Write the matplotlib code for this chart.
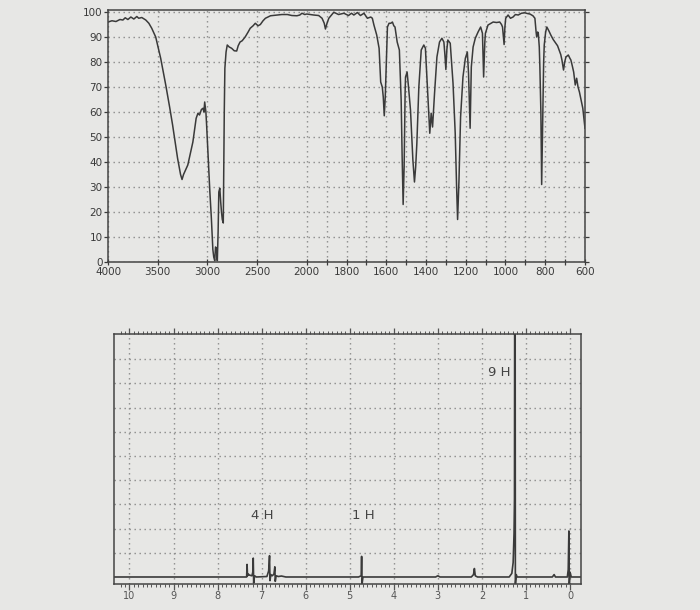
import numpy as np
import matplotlib
matplotlib.use("Agg")
import matplotlib.pyplot as plt

# ---------------- IR spectrum data (wavenumber cm-1, %T) ----------------
ir_wavenumber = [
    4000, 3960, 3920, 3880, 3850, 3827, 3800, 3770, 3740, 3710, 3691, 3660, 3620, 3589, 3560,
    3520, 3470, 3419, 3380, 3350, 3300, 3270, 3255, 3240, 3197, 3146, 3113, 3095, 3079, 3060,
    3044, 3035, 3027, 3015, 3008, 2993, 2975, 2960, 2945, 2936, 2926, 2918, 2909, 2900, 2892,
    2885, 2875, 2866, 2858, 2850, 2840, 2836, 2830, 2824, 2812, 2800, 2780, 2756, 2730, 2705,
    2690, 2671, 2650, 2620, 2590, 2569, 2540, 2518, 2490, 2467, 2440, 2416, 2390, 2365, 2300,
    2250, 2195, 2150, 2099, 2070, 2048, 2020, 2000, 1965, 1940, 1923, 1912, 1906, 1898, 1889,
    1864, 1840, 1813, 1790, 1775, 1763, 1745, 1730, 1712, 1695, 1678, 1670, 1662, 1648, 1636,
    1628, 1620, 1615, 1610, 1605, 1601, 1594, 1586, 1577, 1569, 1562, 1556, 1545, 1534, 1525,
    1520, 1515, 1510, 1505, 1503, 1495, 1488, 1478, 1466, 1458, 1452, 1446, 1436, 1424, 1411,
    1403, 1394, 1386, 1381, 1374, 1367, 1357, 1345, 1332, 1320, 1310, 1305, 1300, 1295, 1290,
    1278, 1264, 1253, 1246, 1241, 1234, 1226, 1214, 1202, 1192, 1186, 1178, 1172, 1163, 1152,
    1138, 1125, 1116, 1110, 1104, 1101, 1088, 1062, 1045, 1029, 1020, 1015, 1007, 1003, 999,
    987, 975, 962, 950, 936, 920, 903, 890, 877, 862, 852, 846, 843, 838, 835,
    830, 827, 822, 818, 815, 813, 808, 805, 798, 792, 782, 772, 760, 747, 738,
    730, 722, 716, 708, 702, 696, 684, 676, 671, 664, 657, 649, 642, 635, 628,
    620, 611, 600,
]
ir_transmittance = [
    96.0, 96.5, 96.2, 97.0, 96.8, 97.7, 97.0, 98.0, 97.2, 98.2, 97.5, 97.8, 96.8, 95.5, 93.5,
    90.0, 81.5, 70.8, 62.0, 54.8, 41.5, 35.0, 33.0, 35.0, 38.8, 48.0, 57.5, 59.5, 58.8, 61.0,
    61.5, 60.0, 64.0, 60.0, 55.0, 42.8, 28.0, 17.6, 5.0, 2.0, 0.5, 6.0, 5.5, 0.5, 12.0,
    28.0, 29.5, 24.0, 20.0, 17.0, 15.6, 35.0, 60.0, 77.5, 84.0, 86.8, 86.0, 85.5, 84.5, 84.4,
    86.5, 88.0, 88.5, 90.0, 92.0, 93.5, 94.5, 95.5, 94.5, 95.0, 96.5, 97.5, 98.0, 98.5, 98.8,
    99.0, 99.0, 98.6, 98.5, 98.8, 99.5, 99.0, 99.2, 98.8, 98.6, 97.5, 95.5, 93.2, 95.5, 97.5,
    99.9, 99.0, 99.5, 98.6, 99.5, 98.8, 99.8, 98.6, 99.5, 97.5, 98.0, 97.5, 94.8, 90.8, 85.5,
    72.0, 70.0, 66.0, 58.5, 66.0, 76.0, 94.0, 95.5, 95.5, 96.0, 94.5, 94.0, 88.0, 84.8, 64.8,
    42.0, 23.0, 38.0, 68.0, 74.0, 76.0, 70.0, 60.8, 40.8, 32.0, 38.0, 47.5, 70.0, 84.8, 86.8,
    85.5, 71.5, 59.5, 51.5, 59.5, 54.0, 67.5, 82.0, 88.0, 89.5, 88.0, 83.0, 77.0, 85.0, 88.8,
    87.5, 71.5, 51.5, 30.0, 17.0, 32.8, 58.0, 74.0, 81.5, 84.0, 75.5, 53.5, 78.0, 86.0, 89.5,
    92.0, 94.0, 91.5, 74.0, 88.0, 91.5, 94.8, 96.0, 95.8, 96.0, 95.0, 94.0, 87.0, 94.0, 97.5,
    98.8, 97.5, 98.0, 99.0, 98.8, 99.5, 99.7, 99.4, 99.2, 98.5, 97.5, 92.0, 90.0, 92.0, 91.5,
    86.0, 78.0, 60.0, 31.0, 45.0, 56.0, 80.0, 86.8, 92.0, 94.0, 92.5, 90.8, 89.0, 87.5, 86.5,
    84.8, 83.0, 80.8, 76.8, 80.0, 82.0, 82.8, 81.5, 80.8, 78.5, 76.0, 70.8, 73.5, 70.0, 68.0,
    65.0, 61.5, 53.5,
]
ir_xticks = [4000, 3500, 3000, 2500, 2000, 1800, 1600, 1400, 1200, 1000, 800, 600]
ir_minor_xticks = [1900, 1700, 1500, 1300, 1100, 900, 700]
ir_yticks = [0, 10, 20, 30, 40, 50, 60, 70, 80, 90, 100]

# ---------------- 1H NMR spectrum data (ppm, relative intensity) ----------------
nmr_ppm = [
    10.35, 7.40, 7.34, 7.33, 7.32, 7.30, 7.28, 7.22, 7.20, 7.19, 7.18, 7.16, 7.12,
    6.88, 6.84, 6.82, 6.81, 6.79, 6.76, 6.72, 6.70, 6.69, 6.67, 6.62, 6.55, 6.45,
    4.80, 4.74, 4.73, 4.72, 4.70, 3.05, 3.00, 2.95, 2.24, 2.19, 2.17, 2.15, 2.10,
    1.38, 1.32, 1.29, 1.27, 1.26, 1.255, 1.245, 1.24, 1.22, 1.20,
    0.40, 0.36, 0.33, 0.06, 0.04, 0.025, 0.015, 0.0, -0.03, -0.25,
]
nmr_intensity = [
    0.0, 0.0, 0.0, 0.52, 0.05, 0.12, 0.08, 0.05, 0.20, 0.78, -0.25, 0.05, 0.0,
    0.02, 0.25, 0.88, -0.15, 0.10, 0.05, 0.12, 0.42, -0.18, 0.05, 0.02, 0.04, 0.0,
    0.0, 0.05, 0.85, -0.30, 0.0, 0.0, 0.05, 0.0, 0.0, 0.10, 0.35, 0.05, 0.0,
    0.0, 0.15, 0.60, 1.80, 3.20, 12.0, 12.0, -0.35, 0.10, 0.0,
    0.0, 0.10, 0.0, 0.0, 0.30, 1.90, -0.30, 0.20, 0.0, 0.0,
]
nmr_xticks = [10, 9, 8, 7, 6, 5, 4, 3, 2, 1, 0]
nmr_labels = ["4 H", "1 H", "9 H"]
nmr_label_ppm = [6.99, 4.70, 1.61]
nmr_label_y = [2.56, 2.56, 8.43]

# ---------------- styling ----------------
BG = "#e7e7e5"
INK = "#3a3a3a"
GRID = "#8a8a8a"
dots = (0, (1, 2.6))


def fwd(w):
    w = np.asarray(w, dtype=float)
    return np.where(w >= 2000, w / 2.0, w - 1000.0)


def inv(t):
    t = np.asarray(t, dtype=float)
    return np.where(t >= 1000, t * 2.0, t + 1000.0)


fig = plt.figure(figsize=(7.0, 6.1), dpi=100, facecolor=BG)

# ---- IR panel ----
ax1 = fig.add_axes([0.1543, 0.5705, 0.6814, 0.4139], facecolor=BG)
ax1.set_xscale("function", functions=(fwd, inv))
ax1.plot(ir_wavenumber, ir_transmittance, color=INK, lw=1.1)
ax1.set_xlim(4000, 600)
ax1.set_ylim(0, 101)
ax1.set_xticks(ir_xticks)
ax1.set_xticklabels([str(v) for v in ir_xticks])
ax1.set_xticks(ir_minor_xticks, minor=True)
ax1.set_yticks(ir_yticks)
ax1.set_yticklabels([str(v) for v in ir_yticks])
ax1.grid(True, which="both", axis="x", color=GRID, linestyle=dots, lw=1.0)
ax1.grid(True, which="major", axis="y", color=GRID, linestyle=dots, lw=1.0)
ax1.tick_params(axis="x", which="both", direction="inout", length=5, width=0.9,
                colors=INK, labelsize=7.5, pad=1)
ax1.tick_params(axis="y", which="major", direction="out", length=3, width=0.9,
                colors=INK, labelsize=7.5, pad=1, right=True)
for s in ax1.spines.values():
    s.set_color("#444444")
    s.set_linewidth(1.1)
ax1.set_axisbelow(True)

# ---- NMR panel ----
ax2 = fig.add_axes([0.1629, 0.0426, 0.6671, 0.4099], facecolor=BG)
ax2.plot(nmr_ppm, nmr_intensity, color=INK, lw=1.2)
ax2.set_xlim(10.35, -0.25)
ax2.set_ylim(-0.29, 10.04)
ax2.set_xticks(nmr_xticks)
ax2.set_xticklabels([str(v) for v in nmr_xticks])
ax2.set_xticks(np.arange(0, 103) / 10.0, minor=True)
ax2.set_yticks([1, 2, 3, 4, 5, 6, 7, 8, 9])
ax2.set_yticklabels([])
ax2.tick_params(axis="y", length=0)
ax2.grid(True, which="major", color=GRID, linestyle=dots, lw=1.0)
ax2.tick_params(axis="x", which="major", direction="out", length=4, width=0.9,
                top=True, colors="#555555", labelsize=7, pad=1)
ax2.tick_params(axis="x", which="minor", direction="out", length=2, width=0.7,
                top=True, colors="#555555")
for s in ax2.spines.values():
    s.set_color("#444444")
    s.set_linewidth(1.1)
ax2.set_axisbelow(True)

for lab, xp, yp in zip(nmr_labels, nmr_label_ppm, nmr_label_y):
    ax2.text(xp, yp, lab, ha="center", va="center", fontsize=9.5, color="#444444")

fig.savefig("out.png", dpi=100, facecolor=BG)
